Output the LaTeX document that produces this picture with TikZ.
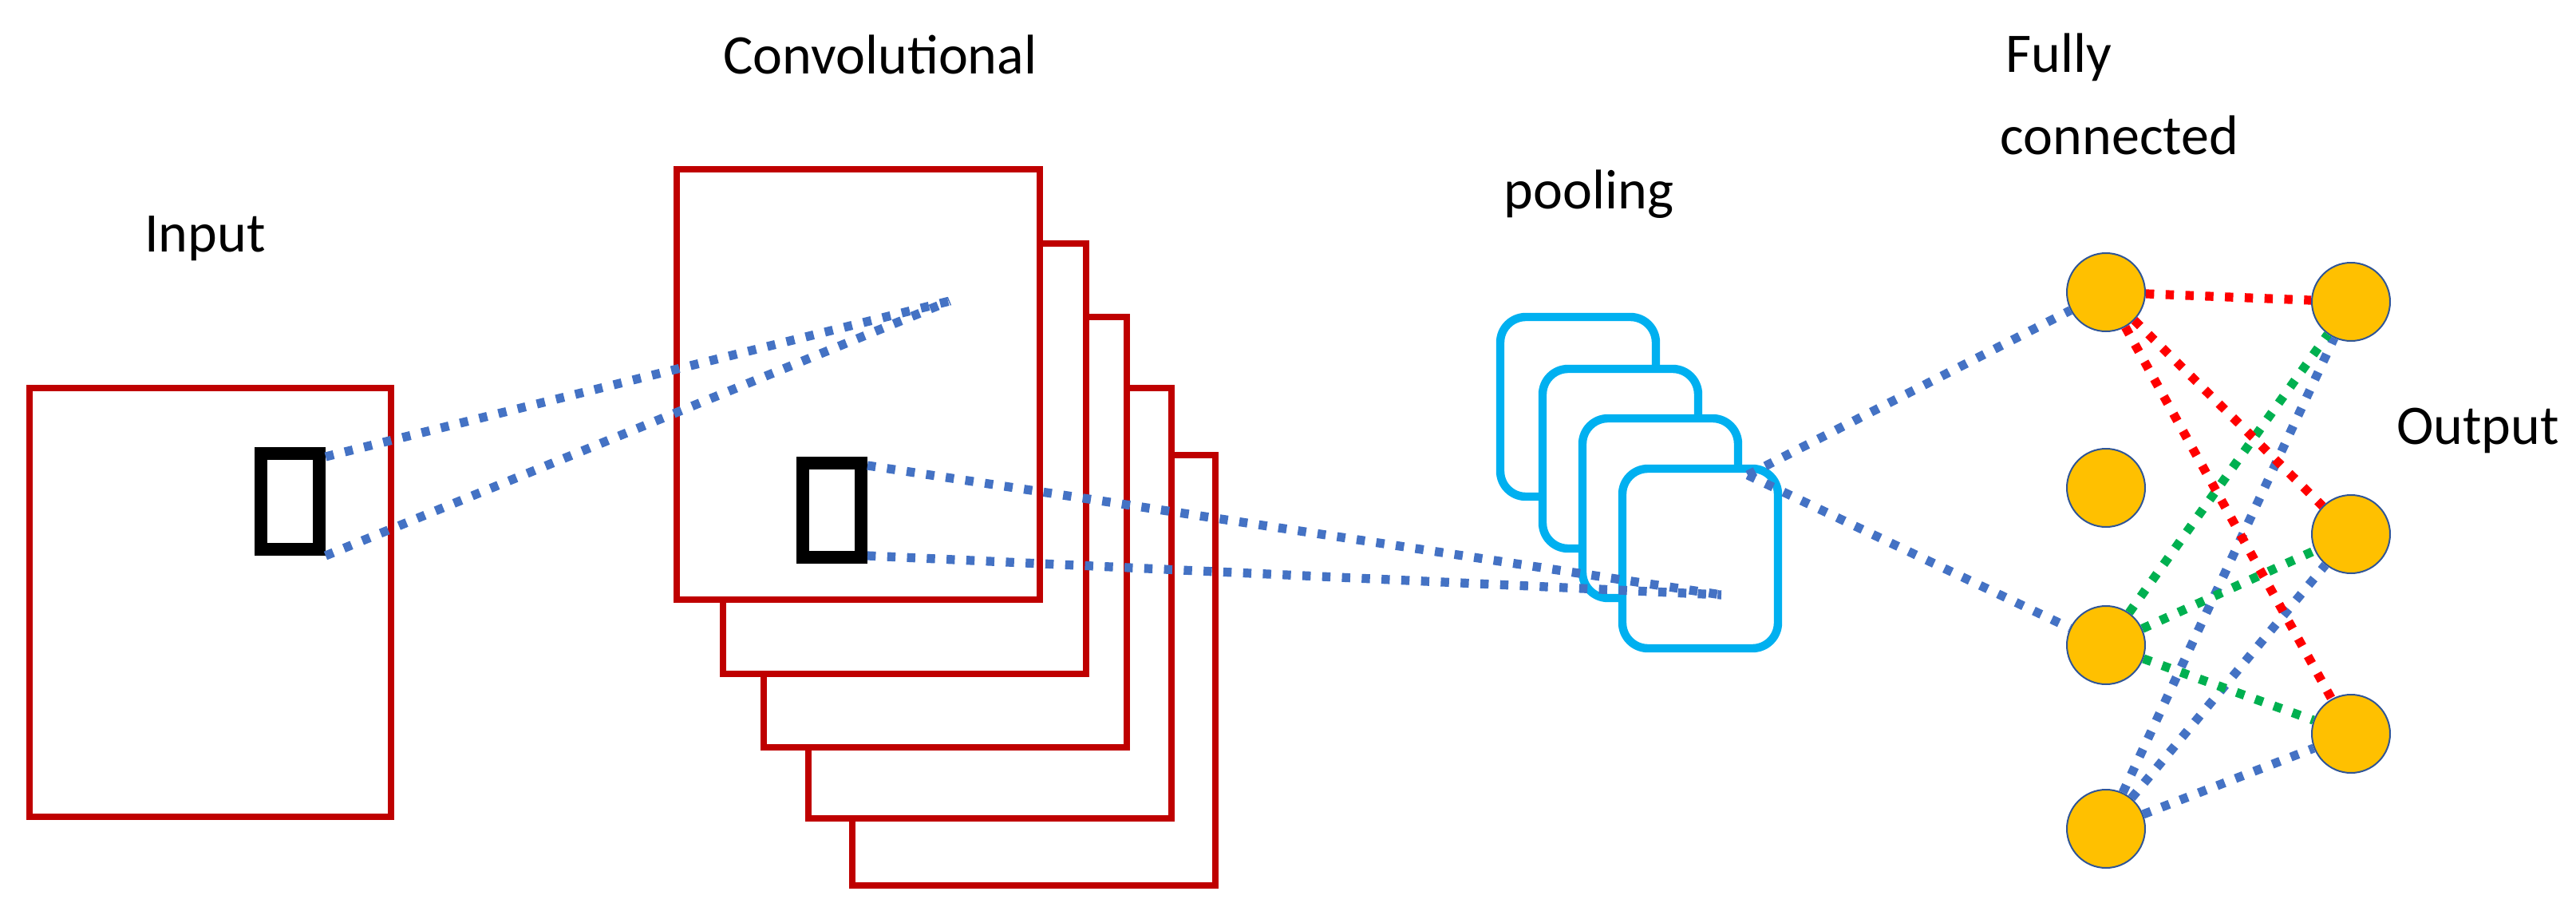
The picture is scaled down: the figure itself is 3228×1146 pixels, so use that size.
\documentclass[tikz,border=0pt]{standalone}
\usepackage{fontspec}
\setmainfont{Carlito}
\begin{document}
\begin{tikzpicture}[x=0.25pt,y=-0.25pt,
  lbl/.style={font=\fontsize{17.5}{20}\selectfont,inner sep=0pt,anchor=center},
  convbox/.style={draw=red!75!black,line width=2pt,fill=white},
  sq/.style={draw=black,line width=4pt},
  pool/.style={draw={rgb,255:red,0;green,176;blue,240},line width=2.6pt,fill=white,rounded corners=8pt},
  neuron/.style={circle,minimum size=24.5pt,inner sep=0pt,fill={rgb,255:red,255;green,192;blue,0},draw={rgb,255:red,47;green,85;blue,151},line width=0.5pt},
  dl/.style={line width=2.8pt,dash pattern=on 2.6pt off 3.6pt},
  bl/.style={dl,draw={rgb,255:red,68;green,114;blue,196}},
  rl/.style={dl,draw={rgb,255:red,255;green,0;blue,0}},
  gl/.style={dl,draw={rgb,255:red,0;green,176;blue,80}}]
\useasboundingbox (0,0) rectangle (3228,1146);
% input
\draw[convbox,fill=none] (37,486) rectangle (490,1023);
\draw[sq] (327,568) rectangle (400,688);
% conv stack
\foreach \x/\y in {1068/570,1013/486,957/397,906/305,848/212}
  \draw[convbox] (\x,\y) rectangle ++(455,539);
\draw[sq] (1006,580) rectangle (1079,698);
% pooling stack
\foreach \x/\y in {1880/397,1933/462,1983/524,2033/587}
  \draw[pool] (\x,\y) rectangle ++(195,225);
% neurons
\node[neuron] (h1) at (2639,366) {};
\node[neuron] (h2) at (2639,611) {};
\node[neuron] (h3) at (2639,808) {};
\node[neuron] (h4) at (2639,1038) {};
\node[neuron] (o1) at (2946,378) {};
\node[neuron] (o2) at (2946,669) {};
\node[neuron] (o3) at (2946,919) {};
% labels
\node[lbl] (tin) at (257,299) {Input};
\node[lbl] (tconv) at (1103,68) {Convolutional};
\node[lbl] (tpool) at (1991,243) {pooling};
\node[lbl] (tfc1) at (2580,72) {Fully};
\node[lbl] (tfc2) at (2656,169) {connected};
\node[lbl] (tout) at (3105,539) {Output};
% connector points
\coordinate (ia) at (408,572);
\coordinate (ib) at (408,696);
\coordinate (ct) at (1190,377);
\coordinate (ca) at (1087,583);
\coordinate (cb) at (1087,696);
\coordinate (pt) at (2157,745);
\coordinate (pa) at (2190,595);
\draw[bl] (ia) -- (ct);
\draw[bl] (ib) -- (ct);
\draw[bl] (ca) -- (pt);
\draw[bl] (cb) -- (pt);
\draw[bl] (pa) -- (h1);
\draw[bl] (pa) -- (h3);
\foreach \o in {o1,o2,o3} {
  \draw[bl] (h4) -- (\o);
  \draw[gl] (h3) -- (\o);
  \draw[rl] (h1) -- (\o);
}
\end{tikzpicture}
\end{document}
